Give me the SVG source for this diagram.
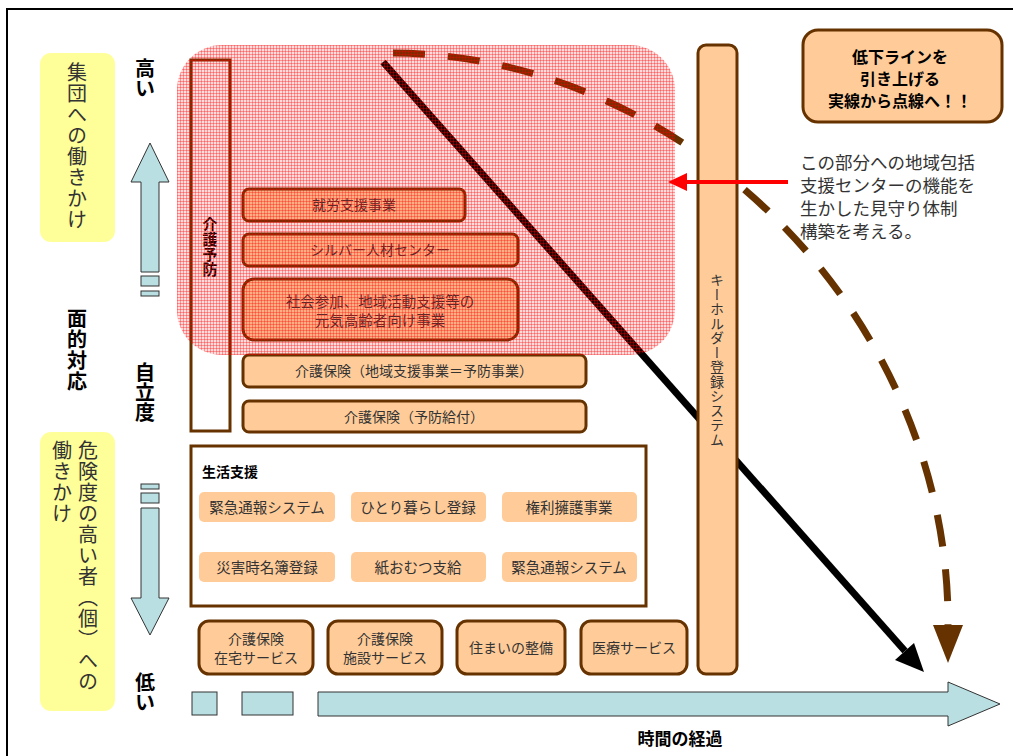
<svg xmlns="http://www.w3.org/2000/svg" width="1013" height="756" viewBox="0 0 1013 756">
<style>
.t{font-family:"Noto Sans CJK JP","Noto Sans",sans-serif;fill:#333}
.b{font-weight:bold;fill:#000}
.v{writing-mode:vertical-rl}
.box{fill:#FFCC99;stroke:#663300;stroke-width:3}
.item{fill:#FFCC99}
.arr{fill:#B9DFE2;stroke:#333;stroke-width:1}
.yel{fill:#FFFF99}
</style>
<defs>
<pattern id="grid" width="3" height="3" patternUnits="userSpaceOnUse">
<rect width="3" height="3" fill="#FF0000" fill-opacity="0.14"/>
<path d="M0,0.5H3M0.5,0V3" stroke="#FF0000" stroke-opacity="0.33" stroke-width="1"/>
</pattern>
</defs>
<rect x="0" y="0" width="1013" height="756" fill="#fff"/>
<rect x="7" y="9" width="1020" height="760" fill="none" stroke="#000" stroke-width="2"/>

<g id="group-label">
<rect class="yel" x="40" y="53" width="75" height="189" rx="11"/>
<text class="t v" x="77" y="62" font-size="20" letter-spacing="1">集団への働きかけ</text>
</g>
<g id="individual-label">
<rect class="yel" x="40" y="432" width="75" height="279" rx="11"/>
<text class="t v" x="88" y="440" font-size="20" letter-spacing="1">危険度の高い者（個）への</text>
<text class="t v" x="62" y="440" font-size="20" letter-spacing="1">働きかけ</text>
</g>
<g id="axis-labels">
<text class="t b v" x="145" y="58" font-size="20">高い</text>
<text class="t b v" x="77" y="308" font-size="20" letter-spacing="1">面的対応</text>
<text class="t b v" x="145" y="362" font-size="20">自立度</text>
<text class="t b v" x="145" y="672" font-size="20">低い</text>
<text class="t b" x="680" y="745" font-size="17" text-anchor="middle">時間の経過</text>
</g>
<g id="up-arrow">
<path class="arr" d="M150,143 L169,182 L159,182 L159,272 L141,272 L141,182 L131,182 Z"/>
<rect class="arr" x="141" y="276" width="18" height="10"/>
<rect class="arr" x="141" y="291" width="18" height="5"/>
</g>
<g id="down-arrow">
<rect class="arr" x="141" y="484" width="18" height="5"/>
<rect class="arr" x="141" y="493" width="18" height="10"/>
<path class="arr" d="M141,508 L159,508 L159,598 L169,598 L150,635 L131,598 L141,598 Z"/>
</g>
<g id="time-arrow">
<rect class="arr" x="192" y="692" width="25" height="23"/>
<rect class="arr" x="242" y="692" width="51" height="23"/>
<path class="arr" d="M318,692 L948,692 L948,682 L1000,704 L948,726 L948,716 L318,716 Z"/>
</g>

<g id="kaigo-yobo">
<rect x="191" y="60" width="39" height="371" fill="#fff" stroke="#663300" stroke-width="3"/>
<text class="t b v" x="210" y="217" font-size="15">介護予防</text>
</g>
<g id="shuro">
<rect class="box" x="243" y="189" width="222" height="32" rx="6"/>
<text class="t" x="354" y="210" font-size="14" text-anchor="middle">就労支援事業</text>
</g>
<g id="silver">
<rect class="box" x="243" y="234" width="275" height="32" rx="6"/>
<text class="t" x="380" y="255" font-size="14" text-anchor="middle">シルバー人材センター</text>
</g>
<g id="shakai">
<rect class="box" x="243" y="279" width="275" height="61" rx="11"/>
<text class="t" x="380" y="307" font-size="14.5" text-anchor="middle">社会参加、地域活動支援等の</text>
<text class="t" x="380" y="326" font-size="14.5" text-anchor="middle">元気高齢者向け事業</text>
</g>
<g id="hoken-chiiki">
<rect class="box" x="243" y="355" width="343" height="32" rx="6"/>
<text class="t" x="414" y="376" font-size="14" text-anchor="middle">介護保険（地域支援事業＝予防事業）</text>
</g>
<g id="hoken-yobo">
<rect class="box" x="243" y="401" width="343" height="31" rx="6"/>
<text class="t" x="414" y="422" font-size="14" text-anchor="middle">介護保険（予防給付）</text>
</g>

<g id="seikatsu">
<rect x="191" y="446" width="455" height="160" fill="#fff" stroke="#663300" stroke-width="3"/>
<text class="t b" x="202" y="477" font-size="14">生活支援</text>
<rect class="item" x="199" y="492" width="136" height="30" rx="5"/>
<text class="t" x="267" y="513" font-size="14.5" text-anchor="middle">緊急通報システム</text>
<rect class="item" x="351" y="492" width="135" height="30" rx="5"/>
<text class="t" x="418" y="513" font-size="14.5" text-anchor="middle">ひとり暮らし登録</text>
<rect class="item" x="502" y="492" width="135" height="30" rx="5"/>
<text class="t" x="569" y="513" font-size="14.5" text-anchor="middle">権利擁護事業</text>
<rect class="item" x="199" y="552" width="136" height="30" rx="5"/>
<text class="t" x="267" y="573" font-size="14.5" text-anchor="middle">災害時名簿登録</text>
<rect class="item" x="351" y="552" width="135" height="30" rx="5"/>
<text class="t" x="418" y="573" font-size="14.5" text-anchor="middle">紙おむつ支給</text>
<rect class="item" x="502" y="552" width="135" height="30" rx="5"/>
<text class="t" x="569" y="573" font-size="14.5" text-anchor="middle">緊急通報システム</text>
</g>

<g id="zaitaku">
<rect class="box" x="199" y="621" width="114" height="53" rx="10" stroke-width="4"/>
<text class="t" x="256" y="644" font-size="14" text-anchor="middle">介護保険</text>
<text class="t" x="256" y="663" font-size="14" text-anchor="middle">在宅サービス</text>
</g>
<g id="shisetsu">
<rect class="box" x="328" y="621" width="114" height="53" rx="10" stroke-width="4"/>
<text class="t" x="385" y="644" font-size="14" text-anchor="middle">介護保険</text>
<text class="t" x="385" y="663" font-size="14" text-anchor="middle">施設サービス</text>
</g>
<g id="sumai">
<rect class="box" x="457" y="621" width="108" height="53" rx="10" stroke-width="4"/>
<text class="t" x="511" y="653" font-size="14" text-anchor="middle">住まいの整備</text>
</g>
<g id="iryo">
<rect class="box" x="581" y="621" width="106" height="53" rx="10" stroke-width="4"/>
<text class="t" x="634" y="653" font-size="14" text-anchor="middle">医療サービス</text>
</g>

<g id="connectors">
<path d="M383,62 L905,651" stroke="#000" stroke-width="7" fill="none"/>
<polygon points="924,672 895,660 914,643" fill="#000"/>
<path d="M393,53 C690,55 950,320 948,625" stroke="#663300" stroke-width="7" fill="none" stroke-dasharray="32 23"/>
<polygon points="933,625 963,625 948,663" fill="#663300"/>
</g>

<g id="keyholder">
<rect class="box" x="698" y="45" width="39" height="629" rx="8"/>
<text class="t v" x="717" y="273" font-size="14" letter-spacing="0.5">キーホルダー登録システム</text>
</g>

<rect id="overlay" x="177" y="45" width="498" height="310" rx="45" fill="url(#grid)"/>

<g id="red-arrow">
<path d="M788,182 L684,182" stroke="#FF0000" stroke-width="4" fill="none"/>
<polygon points="668,182 687,173 687,191" fill="#FF0000"/>
</g>

<g id="callout">
<rect class="box" x="803" y="30" width="199" height="92" rx="15" stroke-width="3.5"/>
<text class="t b" x="900" y="63" font-size="16" text-anchor="middle">低下ラインを</text>
<text class="t b" x="900" y="85" font-size="16" text-anchor="middle">引き上げる</text>
<text class="t b" x="900" y="107" font-size="16" text-anchor="middle">実線から点線へ！！</text>
</g>
<g id="note">
<text class="t" x="800" y="169" font-size="17.5">この部分への地域包括</text>
<text class="t" x="800" y="192" font-size="17.5">支援センターの機能を</text>
<text class="t" x="800" y="215" font-size="17.5">生かした見守り体制</text>
<text class="t" x="800" y="238" font-size="17.5">構築を考える。</text>
</g>
</svg>
